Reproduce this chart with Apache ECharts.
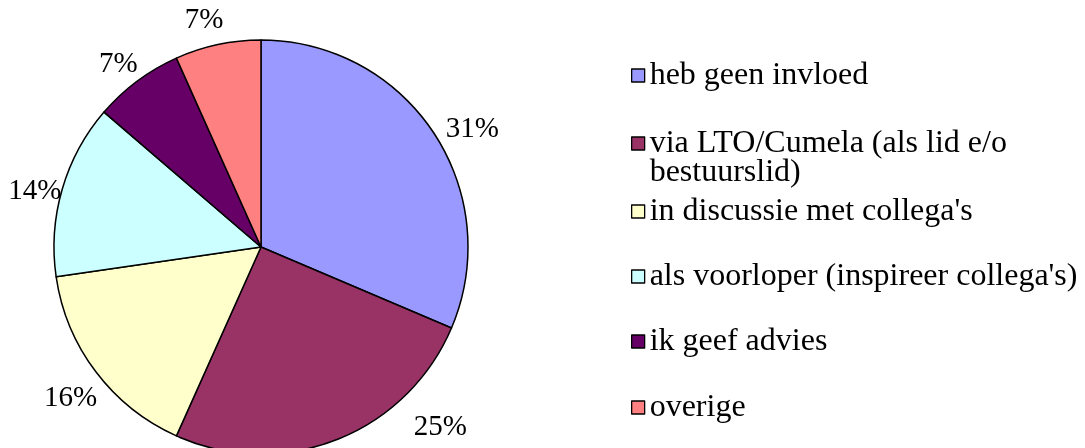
<!DOCTYPE html>
<html>
<head>
<meta charset="utf-8">
<script src="https://cdn.jsdelivr.net/npm/echarts@6/dist/echarts.min.js"></script>
<style>
html,body{margin:0;padding:0;background:#fff;}
#c{width:1085px;height:448px;}
</style>
</head>
<body>
<div id="c"></div>
<script>
// Data
const categories = [
  "heb geen invloed",
  "via LTO/Cumela (als lid e/o\nbestuurslid)",
  "in discussie met collega's",
  "als voorloper (inspireer collega's)",
  "ik geef advies",
  "overige"
];
const values = [31.4, 25.3, 16.0, 13.6, 7.0, 6.7];
const colors = ["#9999FF", "#993366", "#FFFFCC", "#CCFFFF", "#660066", "#FF8080"];

// Layout (styling only)
const FONT = "'Liberation Serif', 'Times New Roman', serif";
const LEG_LINE = 29;
const legendFirstLineY = [74, 142, 210, 275, 340, 406];
const labelNudge = [[2, 0], [70, -18], [11, 23], [10, 4], [9, -12], [12, -18]];

const chart = echarts.init(document.getElementById('c'), null, {renderer: 'canvas'});

const legends = categories.map((name, i) => {
  const lines = name.split('\n').length;
  const pad = lines - 1;
  return {
    data: [name],
    orient: 'vertical',
    left: 631,
    top: legendFirstLineY[i] - (pad + 0.5) * LEG_LINE,
    padding: 0,
    itemWidth: 13,
    itemHeight: 13,
    itemGap: 0,
    selectedMode: false,
    icon: 'rect',
    itemStyle: {borderColor: '#000', borderWidth: 1.3},
    formatter: n => '\n'.repeat(pad) + n,
    textStyle: {fontFamily: FONT, fontSize: 32, color: '#000', lineHeight: LEG_LINE}
  };
});

chart.setOption({
  animation: false,
  backgroundColor: '#fff',
  color: colors,
  legend: legends,
  series: [{
    type: 'pie',
    center: [261, 247],
    radius: [0, 207],
    startAngle: 90,
    clockwise: true,
    avoidLabelOverlap: false,
    itemStyle: {borderColor: '#000', borderWidth: 1.5},
    label: {
      show: true,
      position: 'outside',
      fontFamily: FONT,
      fontSize: 29,
      color: '#000',
      formatter: p => Math.round(p.percent) + '%'
    },
    labelLine: {show: false, length: 6, length2: 0},
    labelLayout: p => ({dx: labelNudge[p.dataIndex][0], dy: labelNudge[p.dataIndex][1]}),
    emphasis: {disabled: true},
    data: categories.map((n, i) => ({name: n, value: values[i]}))
  }]
});
</script>
</body>
</html>
